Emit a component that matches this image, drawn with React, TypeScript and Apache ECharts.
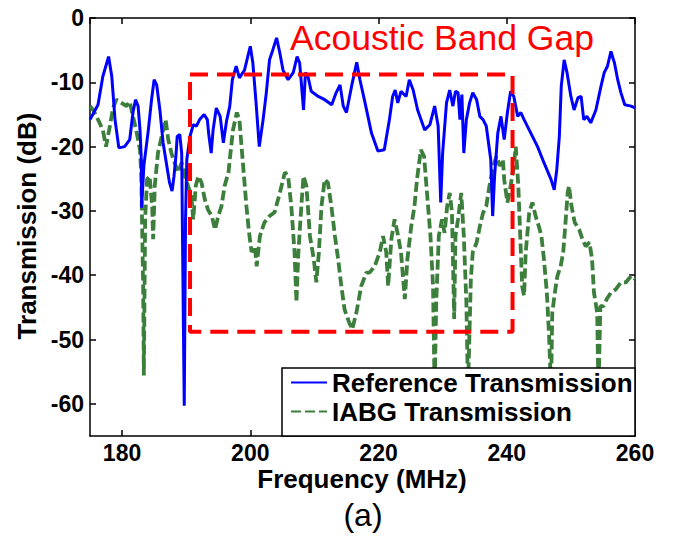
import React, { useEffect, useRef } from "react";
import * as echarts from "echarts";

// Reference Transmission (blue, solid)
const refFreq = [
  175.0, 176.25, 177.0, 177.9, 178.4, 178.9, 179.5, 180.4, 181.2, 181.7, 182.1, 182.5, 182.8, 183.0, 183.05, 183.4,
  184.1, 184.6, 185.0, 185.4, 185.9, 186.4, 186.9, 187.4, 187.8, 188.1, 188.4, 188.6, 189.0, 189.3, 189.45, 189.7,
  189.9, 190.1, 190.6, 191.1, 191.6, 192.1, 192.8, 193.3, 193.5, 193.9, 194.2, 194.7, 195.3, 195.8, 196.3, 196.8,
  197.2, 197.8, 198.3, 199.1, 199.6, 200.0, 200.4, 200.9, 201.4, 202.0, 202.5, 203.0, 203.5, 204.1, 204.6, 205.1,
  205.9, 206.7, 207.3, 207.7, 208.0, 208.3, 208.6, 209.0, 209.5, 210.6, 211.6, 212.7, 213.4, 214.0, 214.5, 215.0,
  215.8, 216.6, 217.1, 217.9, 218.9, 219.9, 220.9, 221.7, 222.2, 222.6, 223.0, 223.5, 224.3, 224.8, 225.4, 226.1,
  227.2, 228.0, 228.75, 229.3, 229.7, 230.0, 230.6, 231.1, 231.6, 232.0, 232.4, 232.7, 233.0, 233.3, 233.7, 234.2,
  234.7, 235.3, 235.8, 236.3, 236.8, 237.5, 237.8, 238.1, 238.6, 239.1, 239.6, 240.1, 240.6, 241.1, 241.7, 242.2,
  242.7, 243.75, 244.8, 245.8, 246.9, 247.4, 247.8, 248.2, 248.5, 248.95, 249.4, 250.0, 250.5, 251.1, 251.6, 252.0,
  252.5, 253.1, 253.9, 254.7, 255.2, 255.7, 256.25, 256.8, 257.3, 257.8, 258.4, 259.4, 260.0,
];
const refDb = [
  -15.8, -13.5, -9.1, -6.0, -9.1, -15.8, -20.2, -20.0, -18.9, -14.7, -12.7, -13.7, -17.4, -22.0, -29.5, -23.0,
  -17.4, -12.7, -9.6, -10.4, -14.3, -19.4, -22.5, -25.6, -26.9, -24.6, -21.5, -18.4, -18.1, -21.0, -36.4, -60.3,
  -31.3, -22.0, -18.4, -16.6, -16.8, -15.8, -15.0, -15.8, -17.9, -21.0, -17.4, -14.0, -15.3, -19.4, -16.0, -13.7,
  -9.6, -7.5, -9.3, -8.1, -6.0, -4.4, -7.0, -13.2, -20.0, -15.8, -11.6, -6.5, -5.0, -3.1, -5.4, -8.1,
  -9.6, -8.5, -6.0, -7.0, -10.6, -14.3, -8.5, -9.1, -11.4, -12.2, -12.7, -13.5, -11.6, -10.4, -13.7, -14.7,
  -10.6, -6.9, -9.6, -13.2, -17.9, -20.7, -20.5, -15.8, -12.2, -11.2, -13.2, -11.4, -12.2, -9.6, -11.2, -14.3,
  -17.4, -16.6, -13.7, -16.8, -28.7, -21.0, -13.2, -11.2, -13.7, -11.4, -11.6, -15.8, -11.9, -21.0, -15.8, -13.2,
  -11.6, -12.7, -15.3, -15.8, -16.8, -22.0, -30.8, -24.6, -17.9, -15.3, -18.9, -14.7, -11.4, -12.2, -15.3, -14.7,
  -15.8, -17.9, -20.0, -22.5, -25.1, -26.7, -23.6, -18.4, -10.6, -6.5, -8.5, -12.2, -14.3, -12.4, -12.2, -15.8,
  -15.3, -16.3, -14.3, -10.6, -8.5, -7.5, -5.2, -7.0, -9.6, -11.6, -13.5, -13.7, -14.0,
];

// IABG Transmission (green, dashed)
const iabgFreq = [
  175.0, 175.5, 176.25, 177.0, 177.5, 178.1, 178.6, 179.1, 179.9, 180.7, 181.2, 181.7, 182.2, 182.8, 183.0, 183.2,
  183.3, 183.4, 183.6, 183.9, 184.3, 184.7, 184.85, 185.1, 185.6, 186.4, 186.8, 187.2, 187.7, 188.2, 188.75, 189.3,
  189.8, 190.3, 190.8, 191.1, 191.5, 191.9, 192.4, 192.9, 193.4, 194.0, 194.5, 195.0, 195.5, 196.0, 196.6, 196.8,
  197.3, 197.9, 198.3, 198.8, 199.4, 199.8, 200.2, 200.7, 201.0, 201.5, 202.2, 203.0, 203.8, 204.6, 205.4, 205.9,
  206.4, 206.9, 207.2, 207.5, 208.0, 208.3, 208.75, 209.3, 209.9, 210.3, 210.7, 211.1, 211.6, 212.1, 212.65, 213.2,
  213.7, 214.2, 214.7, 215.4, 215.9, 216.55, 217.3, 218.1, 218.6, 219.4, 220.2, 220.7, 221.2, 221.5, 222.0, 222.5,
  223.0, 223.5, 224.1, 224.5, 225.1, 225.6, 226.0, 226.6, 227.1, 227.6, 228.1, 228.5, 228.75, 229.0, 229.4, 229.9,
  230.3, 230.7, 231.1, 231.45, 231.8, 232.0, 232.4, 232.9, 233.3, 233.7, 233.95, 234.4, 234.7, 235.3, 235.8, 236.3,
  236.8, 237.3, 237.9, 238.4, 238.9, 239.4, 239.6, 240.1, 240.6, 241.1, 241.4, 241.8, 242.1, 242.4, 242.7, 242.95,
  243.5, 244.0, 244.5, 245.0, 245.4, 245.8, 246.25, 246.6, 246.9, 247.1, 247.5, 247.9, 248.4, 248.8, 249.2, 249.5,
  249.7, 250.1, 250.6, 251.3, 251.8, 252.3, 252.9, 253.3, 253.6, 254.1, 254.3, 254.6, 255.1, 255.6, 256.25, 257.0,
  257.8, 258.6, 259.4, 260.0,
];
const iabgDb = [
  -13.7, -14.3, -15.8, -17.4, -20.0, -16.8, -14.0, -12.7, -13.2, -13.7, -13.0, -15.3, -17.4, -20.5, -24.6, -36.4,
  -42.6, -55.6, -31.3, -25.1, -24.6, -29.3, -34.4, -26.1, -21.0, -17.4, -15.8, -18.9, -21.0, -22.5, -24.0, -22.5,
  -24.6, -26.1, -27.7, -31.3, -26.1, -24.6, -25.6, -28.2, -29.8, -30.8, -32.9, -30.8, -29.3, -26.1, -24.0, -22.0,
  -17.4, -14.7, -15.8, -22.0, -29.3, -33.3, -36.4, -35.5, -38.6, -33.9, -31.8, -30.8, -30.2, -27.2, -24.0, -24.6,
  -29.3, -36.4, -44.2, -36.4, -28.7, -24.6, -26.1, -33.9, -37.5, -41.1, -36.4, -29.3, -25.1, -25.6, -29.3, -33.9,
  -37.5, -41.7, -45.3, -47.3, -48.4, -45.8, -41.7, -39.6, -39.6, -38.6, -36.4, -33.9, -36.4, -41.7, -34.4, -31.3,
  -33.6, -36.4, -43.7, -37.5, -32.4, -29.3, -25.1, -20.5, -21.5, -27.7, -33.9, -41.7, -58.0, -44.2, -33.9, -31.3,
  -33.4, -29.3, -27.2, -30.2, -46.8, -33.9, -31.3, -27.2, -33.9, -44.2, -58.0, -40.6, -36.4, -34.9, -32.4, -30.3,
  -29.3, -26.1, -23.0, -21.5, -23.0, -22.0, -25.1, -28.7, -26.1, -23.0, -20.0, -26.1, -33.9, -41.7, -43.2, -36.5,
  -30.3, -28.7, -30.8, -32.4, -33.9, -37.5, -42.7, -49.4, -58.0, -45.8, -42.7, -40.1, -38.6, -36.5, -31.3, -27.2,
  -26.1, -29.3, -31.8, -32.9, -34.4, -35.5, -34.9, -37.5, -42.7, -45.8, -58.0, -44.8, -44.8, -43.7, -42.7, -42.2,
  -41.1, -41.1, -40.1, -40.6,
];

// Acoustic band gap box corners (MHz, dB)
const gapFreq = [190.6, 240.9, 240.9, 190.6, 190.6];
const gapDb = [-8.8, -8.8, -48.8, -48.8, -8.8];

const seriesNames = ["Reference Transmission", "IABG Transmission"];
const xName = "Frequency (MHz)";
const yName = "Transmission (dB)";
const titleText = "Acoustic Band Gap";
const captionText = "(a)";

const zip = (xs: number[], ys: number[]) => xs.map((x, i) => [x, ys[i]]);

const FONT = "Liberation Sans, Arial, sans-serif";

export default function App() {
  const ref = useRef<HTMLDivElement>(null);
  useEffect(() => {
    if (!ref.current) return;
    const chart = echarts.init(ref.current, null, { renderer: "svg" });
    const axisCommon = {
      type: "value" as const,
      axisLine: { show: true, onZero: false, lineStyle: { color: "#000", width: 1.5 } },
      axisTick: { show: true, inside: true, length: 6, lineStyle: { color: "#000", width: 1.5 } },
      splitLine: { show: false },
    };
    const labelStyle = { color: "#000", fontSize: 23, fontWeight: "bold" as const, fontFamily: FONT };
    chart.setOption({
      animation: false,
      backgroundColor: "#fff",
      grid: { left: 90, right: 39, top: 18, bottom: 104, containLabel: false },
      xAxis: [
        {
          ...axisCommon,
          min: 175,
          max: 260,
          splitNumber: 5,
          position: "bottom",
          axisLabel: { ...labelStyle, margin: 5, showMinLabel: false },
        },
        {
          ...axisCommon,
          min: 175,
          max: 260,
          splitNumber: 5,
          position: "top",
          axisLabel: { show: false },
        },
      ],
      yAxis: [
        {
          ...axisCommon,
          min: -65,
          max: 0,
          splitNumber: 7,
          position: "left",
          axisLabel: { ...labelStyle, margin: 6, showMinLabel: false },
        },
        {
          ...axisCommon,
          min: -65,
          max: 0,
          splitNumber: 7,
          position: "right",
          axisLabel: { show: false },
        },
      ],
      legend: {
        orient: "vertical",
        left: 290,
        top: 369,
        padding: 0,
        itemGap: 2,
        itemWidth: 36,
        itemHeight: 14,
        z: 60,
        data: seriesNames,
        itemStyle: { opacity: 0 },
        textStyle: { color: "#000", fontSize: 26, fontWeight: "bold", fontFamily: FONT, lineHeight: 27 },
      },
      graphic: [
        {
          type: "rect",
          z: 50,
          shape: { x: 282, y: 368, width: 353, height: 68 },
          style: { fill: "#fff", stroke: "#000", lineWidth: 1.5 },
        },
        {
          type: "text",
          z: 50,
          x: 290,
          y: 38,
          style: { text: titleText, fill: "#ff0000", fontSize: 35.5, fontFamily: FONT, verticalAlign: "middle" },
        },
        {
          type: "text",
          z: 50,
          x: 362,
          y: 479,
          style: {
            text: xName,
            fill: "#000",
            fontSize: 26,
            fontWeight: "bold",
            fontFamily: FONT,
            align: "center",
            verticalAlign: "middle",
          },
        },
        {
          type: "text",
          z: 50,
          x: 27,
          y: 226,
          rotation: Math.PI / 2,
          style: {
            text: yName,
            fill: "#000",
            fontSize: 26,
            fontWeight: "bold",
            fontFamily: FONT,
            align: "center",
            verticalAlign: "middle",
          },
        },
        {
          type: "text",
          z: 50,
          x: 363,
          y: 515,
          style: {
            text: captionText,
            fill: "#000",
            fontSize: 32,
            fontFamily: FONT,
            align: "center",
            verticalAlign: "middle",
          },
        },
      ],
      series: [
        {
          name: seriesNames[0],
          type: "line",
          data: zip(refFreq, refDb),
          symbol: "none",
          lineStyle: { color: "#0000ff", width: 3 },
          itemStyle: { color: "#0000ff" },
          z: 3,
        },
        {
          name: seriesNames[1],
          type: "line",
          data: zip(iabgFreq, iabgDb),
          symbol: "none",
          lineStyle: { color: "#3c7f3c", width: 3.8, type: [10, 4] },
          itemStyle: { color: "#3c7f3c" },
          z: 2,
        },
        {
          name: "gap",
          type: "line",
          data: zip(gapFreq, gapDb),
          symbol: "none",
          lineStyle: { color: "#ff0000", width: 4, type: [18, 9] },
          z: 4,
          silent: true,
        },
      ],
    });
    return () => chart.dispose();
  }, []);
  return <div ref={ref} style={{ position: "absolute", left: 0, top: 0, width: 674, height: 540 }} />;
}
